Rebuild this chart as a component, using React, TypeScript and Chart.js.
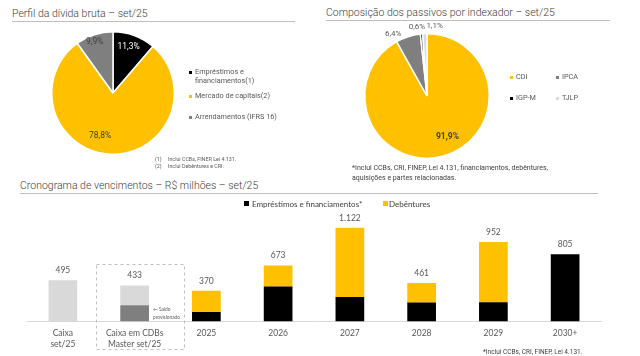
import React, { useEffect, useRef } from "react";
import { Chart, registerables } from "chart.js";

Chart.register(...registerables);

// ---------------- Data ----------------
const debtLabels = ["Empréstimos e financiamentos(1)", "Mercado de capitais(2)", "Arrendamentos (IFRS 16)"];
const debtShares = [11.3, 78.8, 9.9];

const indexerLabels = ["CDI", "IPCA", "IGP-M", "TJLP"];
const indexerShares = [91.9, 6.4, 0.6, 1.1];

const maturityCategories: (string | string[])[] = [
  ["Caixa", "set/25"],
  ["Caixa em CDBs", "Master set/25"],
  "2025",
  "2026",
  "2027",
  "2028",
  "2029",
  "2030+",
];
const loansSeries = [null, null, 115, 420, 293, 229, 233, 805];
const debenturesSeries = [null, null, 255, 253, 829, 232, 719, null];
const provisionedSeries = [null, 195, null, null, null, null, null, null];
const cashSeries = [495, 238, null, null, null, null, null, null];

// ---------------- Styles ----------------
const YELLOW = "#FFC000";
const BLACK = "#000000";
const GRAY = "#7F7F7F";
const LIGHT = "#D9D9D9";
const TEXT = "#595959";
const DARK = "#404040";

const fmtPct = (v: number) => v.toFixed(1).replace(".", ",") + "%";
const fmtThousands = (v: number) => String(Math.round(v)).replace(/\B(?=(\d{3})+(?!\d))/g, ".");

const pieLabelPlugin = {
  id: "pieLabels",
  afterDatasetsDraw(chart: any, _args: any, opts: any) {
    const meta = chart.getDatasetMeta(0);
    const values = chart.data.datasets[0].data as number[];
    const ctx = chart.ctx;
    meta.data.forEach((arc: any, i: number) => {
      const p = arc.getProps(["x", "y", "startAngle", "endAngle", "outerRadius"], true);
      const mid = (p.startAngle + p.endAngle) / 2;
      const f = opts.radius[i];
      const [nx, ny] = opts.nudge[i];
      const px = p.x + Math.cos(mid) * p.outerRadius * f + nx;
      const py = p.y + Math.sin(mid) * p.outerRadius * f + ny;
      ctx.save();
      ctx.font = `${opts.weight[i]} ${opts.size[i]}px Roboto`;
      ctx.fillStyle = opts.color[i];
      ctx.textAlign = "center";
      ctx.textBaseline = "middle";
      ctx.fillText(fmtPct(values[i]), px, py);
      ctx.restore();
    });
  },
};

const barExtrasPlugin = {
  id: "barExtras",
  afterDatasetsDraw(chart: any) {
    const ctx = chart.ctx;
    const xs = chart.scales.x;
    const ys = chart.scales.y;
    const area = chart.chartArea;
    const band = xs.getPixelForValue(1) - xs.getPixelForValue(0);
    const totals = maturityCategories.map((_, i) =>
      chart.data.datasets.reduce((s: number, d: any) => s + (d.data[i] ?? 0), 0)
    );

    // totals above stacks
    ctx.save();
    ctx.font = "8.5px Lato";
    ctx.fillStyle = TEXT;
    ctx.textAlign = "center";
    ctx.textBaseline = "alphabetic";
    totals.forEach((t: number, i: number) => {
      ctx.fillText(fmtThousands(t), xs.getPixelForValue(i), ys.getPixelForValue(t) - 7);
    });
    ctx.restore();

    // dashed box around the CDB Master category
    const xc = xs.getPixelForValue(1);
    const top = ys.getPixelForValue(totals[1]) - 21;
    const bottom = area.bottom + 28;
    const left = xc - band * 0.54;
    const right = xc + band * 0.69;
    ctx.save();
    ctx.strokeStyle = "#BFBFBF";
    ctx.lineWidth = 1;
    ctx.setLineDash([3, 3]);
    ctx.strokeRect(Math.round(left) + 0.5, Math.round(top) + 0.5, Math.round(right - left), Math.round(bottom - top));
    ctx.restore();

    // "Saldo provisionado" note
    const provIdx = chart.data.datasets.findIndex((d: any) => d.label === "Saldo provisionado");
    const bar = chart.getDatasetMeta(provIdx).data[1];
    if (bar) {
      const bp = bar.getProps(["x", "y", "base", "width"], true);
      const cy = (bp.y + bp.base) / 2;
      ctx.save();
      ctx.font = "4.8px Lato";
      ctx.fillStyle = TEXT;
      ctx.textAlign = "left";
      ctx.textBaseline = "middle";
      const tx = bp.x + bp.width / 2 + 4;
      ctx.fillText("\u2190 Saldo", tx, cy - 4);
      ctx.fillText("provisionado", tx, cy + 4);
      ctx.restore();
    }
  },
};

// ---------------- Components ----------------
function PieChart(props: {
  labels: string[];
  values: number[];
  colors: string[];
  width: number;
  height: number;
  padding: { left: number; right: number; top: number; bottom: number };
  labelOpts: any;
}) {
  const ref = useRef<HTMLCanvasElement>(null);
  useEffect(() => {
    const chart = new Chart(ref.current!, {
      type: "pie",
      data: {
        labels: props.labels,
        datasets: [
          {
            data: props.values,
            backgroundColor: props.colors,
            borderColor: "#FFFFFF",
            borderWidth: 1.5,
            hoverOffset: 0,
          },
        ],
      },
      options: {
        responsive: false,
        animation: false,
        layout: { padding: props.padding },
        plugins: {
          legend: { display: false },
          tooltip: { enabled: false },
          pieLabels: props.labelOpts,
        } as any,
      },
      plugins: [pieLabelPlugin],
    });
    return () => chart.destroy();
  }, []);
  return <canvas ref={ref} width={props.width} height={props.height} style={{ width: props.width, height: props.height }} />;
}

function MaturityChart() {
  const ref = useRef<HTMLCanvasElement>(null);
  useEffect(() => {
    const common = { stack: "s", barPercentage: 0.4, categoryPercentage: 1, borderWidth: 0 };
    const chart = new Chart(ref.current!, {
      type: "bar",
      data: {
        labels: maturityCategories as any,
        datasets: [
          { label: "Empréstimos e financiamentos*", data: loansSeries as any, backgroundColor: BLACK, ...common },
          { label: "Saldo provisionado", data: provisionedSeries as any, backgroundColor: GRAY, ...common },
          { label: "Debêntures", data: debenturesSeries as any, backgroundColor: YELLOW, ...common },
          { label: "Caixa", data: cashSeries as any, backgroundColor: LIGHT, ...common },
        ],
      },
      options: {
        responsive: false,
        animation: false,
        layout: { padding: { left: 27, right: 39, top: 13, bottom: 0 } },
        scales: {
          x: {
            stacked: true,
            grid: { display: false, drawTicks: false },
            border: { display: true, color: LIGHT, width: 1 },
            ticks: {
              font: { family: "Lato", size: 8.5 },
              color: TEXT,
              padding: 7,
              maxRotation: 0,
              autoSkip: false,
            },
          },
          y: { stacked: true, display: false, min: 0, max: 1300 },
        },
        plugins: { legend: { display: false }, tooltip: { enabled: false } },
      },
      plugins: [barExtrasPlugin],
    });
    return () => chart.destroy();
  }, []);
  return <canvas ref={ref} width={640} height={156} style={{ width: 640, height: 156 }} />;
}

function T(props: { x: number; y: number; size: number; children: any; color?: string; weight?: number; family?: string }) {
  return (
    <div
      style={{
        position: "absolute",
        left: props.x,
        top: props.y,
        transform: "translateY(-50%)",
        fontFamily: props.family ?? "Roboto",
        fontSize: props.size,
        fontWeight: props.weight ?? 400,
        color: props.color ?? TEXT,
        lineHeight: 1,
        whiteSpace: "nowrap",
      }}
    >
      {props.children}
    </div>
  );
}

function Box(props: { x: number; y: number; w: number; h: number; color: string }) {
  return <div style={{ position: "absolute", left: props.x, top: props.y, width: props.w, height: props.h, background: props.color }} />;
}

export default function App() {
  return (
    <div style={{ position: "absolute", left: 0, top: 0, width: 640, height: 356, background: "#fff", overflow: "hidden" }}>
      {/* Titles */}
      <T x={12} y={14} size={10.5} weight={300} color={DARK}>Perfil da dívida bruta – set/25</T>
      <Box x={12} y={21} w={283} h={1} color="#BFBFBF" />
      <T x={326} y={13} size={10.5} weight={300} color={DARK}>Composição dos passivos por indexador – set/25</T>
      <Box x={326} y={20} w={284} h={1} color="#BFBFBF" />
      <T x={20} y={186} size={10.5} weight={300} color={DARK}>Cronograma de vencimentos – R$ milhões – set/25</T>
      <Box x={20} y={193} w={578} h={1} color="#BFBFBF" />

      {/* Pie 1 */}
      <div style={{ position: "absolute", left: 13, top: 23 }}>
        <PieChart
          labels={debtLabels}
          values={debtShares}
          colors={[BLACK, YELLOW, GRAY]}
          width={200}
          height={140}
          padding={{ left: 38, right: 38, top: 8, bottom: 8 }}
          labelOpts={{
            radius: [0.78, 0.7, 0.87],
            nudge: [[-1, -1], [-11, 0], [-2, 0]],
            color: ["#FFFFFF", DARK, DARK],
            weight: [400, 400, 400],
            size: [8.5, 8.5, 8.5],
          }}
        />
      </div>
      <Box x={189} y={71} w={3} h={3} color={BLACK} />
      <T x={195} y={72} size={7.3}>Empréstimos e</T>
      <T x={195} y={81} size={7.3}>financiamentos(1)</T>
      <Box x={189} y={95} w={3} h={3} color={YELLOW} />
      <T x={195} y={96} size={7.3}>{debtLabels[1]}</T>
      <Box x={189} y={116} w={3} h={3} color={GRAY} />
      <T x={195} y={117} size={7.3}>{debtLabels[2]}</T>
      <T x={155} y={160} size={5.3}>(1)</T>
      <T x={168} y={160} size={5.3}>Inclui CCBs, FINEP, Lei 4.131.</T>
      <T x={155} y={167} size={5.3}>(2)</T>
      <T x={168} y={167} size={5.3}>Inclui Debêntures e CRI.</T>

      {/* Pie 2 */}
      <div style={{ position: "absolute", left: 327, top: 16 }}>
        <PieChart
          labels={indexerLabels}
          values={indexerShares}
          colors={[YELLOW, GRAY, BLACK, LIGHT]}
          width={200}
          height={160}
          padding={{ left: 37, right: 37, top: 17, bottom: 17 }}
          labelOpts={{
            radius: [0.73, 1.1, 1.12, 1.12],
            nudge: [[9, -3], [-13, 3], [-4, 0], [10, 0]],
            color: [DARK, TEXT, TEXT, TEXT],
            weight: [700, 400, 400, 400],
            size: [8.5, 8, 8, 8],
          }}
        />
      </div>
      <Box x={510} y={76} w={3} h={3} color={YELLOW} />
      <T x={516} y={77} size={7.3}>{indexerLabels[0]}</T>
      <Box x={556} y={76} w={3} h={3} color={GRAY} />
      <T x={562} y={77} size={7.3}>{indexerLabels[1]}</T>
      <Box x={510} y={97} w={3} h={3} color={BLACK} />
      <T x={516} y={98} size={7.3}>{indexerLabels[2]}</T>
      <Box x={556} y={97} w={3} h={3} color={LIGHT} />
      <T x={562} y={98} size={7.3}>{indexerLabels[3]}</T>
      <T x={352} y={168} size={7} color={DARK}>*Inclui CCBs, CRI, FINEP, Lei 4.131, financiamentos, debêntures,</T>
      <T x={352} y={178} size={7} color={DARK}>aquisições e partes relacionadas.</T>

      {/* Bar chart */}
      <div style={{ position: "absolute", left: 0, top: 200 }}>
        <MaturityChart />
      </div>
      <Box x={244} y={201} w={5} h={5} color={BLACK} />
      <T x={252} y={203.5} size={8} family="Lato" color={DARK}>Empréstimos e financiamentos*</T>
      <Box x={383} y={201} w={5} h={5} color={YELLOW} />
      <T x={389} y={203.5} size={8} family="Lato" color={DARK}>Debêntures</T>
      <T x={483} y={352} size={6.5} color={DARK}>*Inclui CCBs, CRI, FINEP, Lei 4.131.</T>
    </div>
  );
}
